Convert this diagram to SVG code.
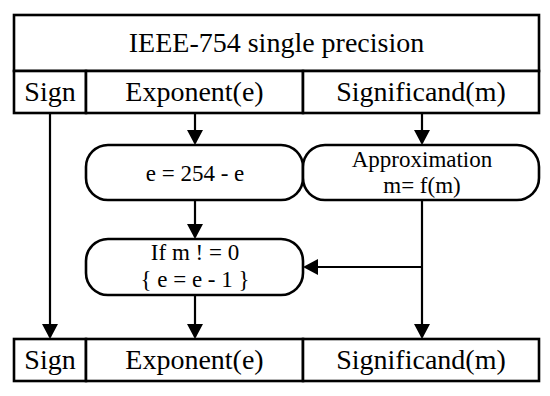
<svg xmlns="http://www.w3.org/2000/svg" width="550" height="396" viewBox="0 0 550 396">
<style>
.cell{fill:#fff;stroke:#000;stroke-width:2.6}
.rbox{fill:#fff;stroke:#000;stroke-width:2.6}
.t{font-family:"Liberation Serif","Times New Roman",serif;fill:#000;text-anchor:middle}
.big{font-size:28px}
.mid{font-size:23px}
.sm{font-size:23px}
.con{fill:none;stroke:#000;stroke-width:2.2}
.ar{marker-end:url(#ah)}
</style>
<defs>
<marker id="ah" markerUnits="userSpaceOnUse" viewBox="0 0 15 16" refX="13" refY="8" markerWidth="15" markerHeight="16" orient="auto">
<path d="M0,0 L15,8 L0,16 Z" fill="#000"/>
</marker>
</defs>
<rect width="550" height="396" fill="#fff"/>
<g id="connectors">
<line class="con ar" x1="50" y1="113" x2="50" y2="337"/>
<line class="con ar" x1="195" y1="113" x2="195" y2="143"/>
<line class="con ar" x1="422" y1="113" x2="422" y2="143"/>
<line class="con ar" x1="195" y1="200" x2="195" y2="237"/>
<line class="con ar" x1="195" y1="295" x2="195" y2="337"/>
<line class="con ar" x1="422" y1="200" x2="422" y2="337"/>
<line class="con ar" x1="422" y1="267" x2="305" y2="267"/>
</g>
<g id="input-format">
<rect class="cell" x="14" y="15" width="525" height="56"/>
<text class="t big" x="276.5" y="52">IEEE-754 single precision</text>
<rect class="cell" x="14" y="71" width="72" height="42"/>
<text class="t big" x="50" y="101">Sign</text>
<rect class="cell" x="86" y="71" width="217" height="42"/>
<text class="t big" x="194.5" y="101">Exponent(e)</text>
<rect class="cell" x="303" y="71" width="236" height="42"/>
<text class="t big" x="421" y="101">Significand(m)</text>
</g>
<g id="exp-sub">
<rect class="rbox" x="86" y="145" width="217" height="55" rx="22" ry="22"/>
<text class="t sm" x="195" y="181">e = 254 - e</text>
</g>
<g id="approx">
<rect class="rbox" x="303" y="145" width="236" height="55" rx="22" ry="22"/>
<text class="t mid" x="422" y="167">Approximation</text>
<text class="t mid" x="422" y="193">m= f(m)</text>
</g>
<g id="if-dec">
<rect class="rbox" x="86" y="239" width="217" height="56" rx="22" ry="22"/>
<text class="t mid" x="195" y="260">If m ! = 0</text>
<text class="t mid" x="195" y="287">{ e = e - 1 }</text>
</g>
<g id="output-format">
<rect class="cell" x="14" y="339" width="72" height="42"/>
<text class="t big" x="50" y="369">Sign</text>
<rect class="cell" x="86" y="339" width="217" height="42"/>
<text class="t big" x="194.5" y="369">Exponent(e)</text>
<rect class="cell" x="303" y="339" width="236" height="42"/>
<text class="t big" x="421" y="369">Significand(m)</text>
</g>
</svg>
